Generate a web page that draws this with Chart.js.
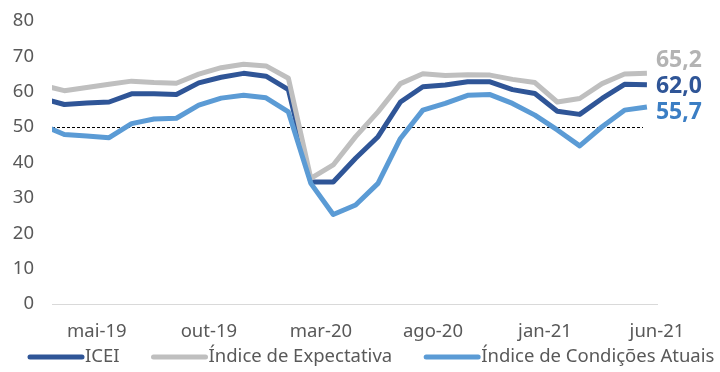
<!DOCTYPE html>
<html>
<head>
<meta charset="utf-8">
<script src="https://cdn.jsdelivr.net/npm/chart.js@4"></script>
<style>
  html, body { margin: 0; padding: 0; background: #fff; }
  #wrap { width: 720px; height: 372px; position: relative; }
</style>
</head>
<body>
<div id="wrap"><canvas id="chart"></canvas></div>
<script>
// meses (mar-19 .. jun-21)
const months = [
  'mar-19', 'abr-19', 'mai-19', 'jun-19', 'jul-19', 'ago-19', 'set-19', 'out-19', 'nov-19', 'dez-19',
  'jan-20', 'fev-20', 'mar-20', 'abr-20', 'mai-20', 'jun-20', 'jul-20', 'ago-20', 'set-20', 'out-20',
  'nov-20', 'dez-20', 'jan-21', 'fev-21', 'mar-21', 'abr-21', 'mai-21', 'jun-21',
];
const tickMonths = ['mai-19', 'out-19', 'mar-20', 'ago-20', 'jan-21', 'jun-21'];

const icei = [
  58.1, 56.4, 56.8, 57.1, 59.4, 59.4, 59.2, 62.5, 64.1, 65.2,
  64.4, 60.6, 34.5, 34.5, 41.2, 47.3, 57.1, 61.4, 61.9, 62.8,
  62.8, 60.6, 59.5, 54.5, 53.6, 58.1, 62.1, 62.0,
];
const expectativa = [
  61.9, 60.3, 61.2, 62.1, 63.0, 62.6, 62.4, 65.0, 66.8, 67.8,
  67.3, 63.8, 35.5, 39.3, 47.3, 54.3, 62.3, 65.1, 64.6, 64.8,
  64.7, 63.5, 62.6, 57.1, 58.1, 62.3, 65.0, 65.2,
];
const condicoes = [
  50.6, 47.9, 47.5, 47.0, 51.0, 52.3, 52.5, 56.2, 58.2, 59.0,
  58.3, 54.3, 34.1, 25.3, 28.0, 34.1, 46.8, 54.8, 56.7, 59.0,
  59.2, 56.7, 53.4, 49.2, 44.7, 50.1, 54.8, 55.7,
];
const referenceLine = 50;

const FONT = '"Noto Sans", "Open Sans", sans-serif';
const TEXT_COLOR = '#595959';
const FONT_SIZE = 18.5;

// posicao das etiquetas do eixo x em relacao ao ponto do mes
const TICK_SHIFT = 0.45;

const toPoints = (arr) => arr.map((v, i) => ({ x: i, y: v }));

// linha tracejada no nivel 50
const refLinePlugin = {
  id: 'refLine',
  beforeDatasetsDraw(chart) {
    const { ctx, chartArea, scales } = chart;
    const y = Math.round(scales.y.getPixelForValue(referenceLine)) + 0.5;
    ctx.save();
    ctx.strokeStyle = '#000';
    ctx.lineWidth = 1;
    ctx.setLineDash([3, 2]);
    ctx.beginPath();
    ctx.moveTo(chartArea.left, y);
    ctx.lineTo(chartArea.right - 14, y);
    ctx.stroke();
    ctx.restore();
  },
};

// rotulos do ultimo valor
const endLabelsPlugin = {
  id: 'endLabels',
  afterDatasetsDraw(chart) {
    const { ctx } = chart;
    ctx.save();
    ctx.font = 'bold 23px ' + FONT;
    ctx.textAlign = 'left';
    ctx.textBaseline = 'middle';
    chart.data.datasets.forEach((ds, i) => {
      const meta = chart.getDatasetMeta(i);
      const pt = meta.data[meta.data.length - 1];
      const last = ds.data[ds.data.length - 1].y;
      ctx.fillStyle = ds.labelColor;
      ctx.fillText(last.toFixed(1).replace('.', ','), pt.x + 9, pt.y + ds.labelOffset);
    });
    ctx.restore();
  },
};

// legenda desenhada a mao (amostra colada ao texto)
const bottomLegendPlugin = {
  id: 'bottomLegend',
  afterDraw(chart) {
    const { ctx } = chart;
    const y = 357;
    let x = 27;
    ctx.save();
    ctx.font = FONT_SIZE + 'px ' + FONT;
    ctx.textBaseline = 'middle';
    ctx.textAlign = 'left';
    chart.data.datasets.forEach((ds) => {
      ctx.strokeStyle = ds.borderColor;
      ctx.lineWidth = 5;
      ctx.lineCap = 'round';
      ctx.beginPath();
      ctx.moveTo(x + 3, y);
      ctx.lineTo(x + 55, y);
      ctx.stroke();
      x += 58;
      ctx.fillStyle = TEXT_COLOR;
      ctx.fillText(ds.label, x, y);
      x += ctx.measureText(ds.label).width + 31;
    });
    ctx.restore();
  },
};

const ctx = document.getElementById('chart').getContext('2d');
new Chart(ctx, {
  type: 'line',
  data: {
    datasets: [
      {
        label: 'ICEI',
        data: toPoints(icei),
        borderColor: '#2F5597',
        labelColor: '#2F5597',
        labelOffset: 2,
        order: 3,
      },
      {
        label: 'Índice de Expectativa',
        data: toPoints(expectativa),
        borderColor: '#BFBFBF',
        labelColor: '#B3B3B3',
        labelOffset: -13,
        order: 2,
      },
      {
        label: 'Índice de Condições Atuais',
        data: toPoints(condicoes),
        borderColor: '#5B9BD5',
        labelColor: '#3B7EC4',
        labelOffset: 5,
        order: 1,
      },
    ].map((ds) => ({
      ...ds,
      borderWidth: 5,
      pointRadius: 0,
      tension: 0,
      borderJoinStyle: 'round',
      clip: { left: 0, top: 10, right: 10, bottom: 10 },
    })),
  },
  options: {
    animation: false,
    responsive: true,
    maintainAspectRatio: false,
    layout: {
      padding: { top: 21, right: 63, left: 0, bottom: 28 },
    },
    plugins: {
      legend: { display: false },
      tooltip: { enabled: false },
    },
    scales: {
      x: {
        type: 'linear',
        min: TICK_SHIFT,
        max: months.length - 1 + TICK_SHIFT,
        afterBuildTicks: (scale) => {
          scale.ticks = tickMonths.map((m) => ({ value: months.indexOf(m) + TICK_SHIFT }));
        },
        afterFit: (scale) => {
          scale.height = 40;
        },
        grid: { display: false, drawTicks: false },
        border: { display: true, color: '#D9D9D9', width: 1 },
        ticks: {
          autoSkip: false,
          maxRotation: 0,
          padding: 17,
          color: TEXT_COLOR,
          font: { family: FONT, size: FONT_SIZE },
          callback: (v) => months[Math.round(v - TICK_SHIFT)],
        },
      },
      y: {
        min: 0,
        max: 80,
        afterFit: (scale) => {
          scale.width = 52;
          scale.paddingTop = 0;
          scale.paddingBottom = 0;
        },
        grid: { display: false, drawTicks: false },
        border: { display: false },
        ticks: {
          stepSize: 10,
          padding: 18,
          color: TEXT_COLOR,
          font: { family: FONT, size: FONT_SIZE },
        },
      },
    },
  },
  plugins: [refLinePlugin, endLabelsPlugin, bottomLegendPlugin],
});
</script>
</body>
</html>
